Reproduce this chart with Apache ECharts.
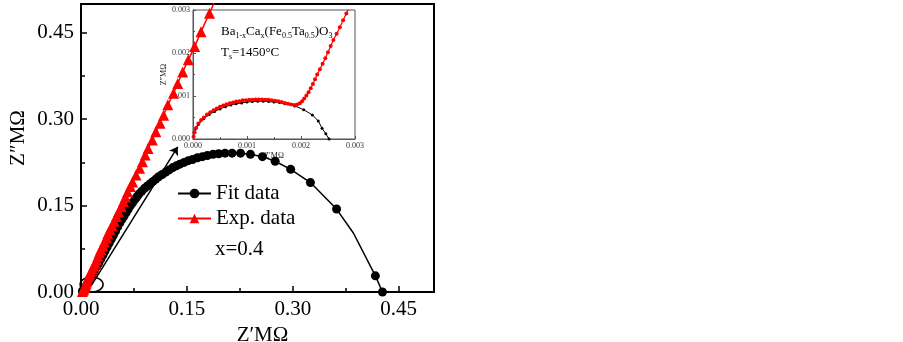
<!DOCTYPE html>
<html>
<head>
<meta charset="utf-8">
<script src="https://cdn.jsdelivr.net/npm/echarts@6/dist/echarts.min.js"></script>
<style>
html, body { margin: 0; padding: 0; background: #fff; }
#chart1 { width: 903px; height: 342px; }
</style>
</head>
<body>
<div id="chart1"></div>
<script>
// 主图 - 拟合数据 (Z', Z'')
var fitX = [0.002, 0.003, 0.005, 0.007, 0.009, 0.011, 0.013, 0.016, 0.019, 0.022, 0.025, 0.028, 0.031, 0.034, 0.037, 0.040, 0.043, 0.046, 0.049, 0.052, 0.055, 0.058, 0.061, 0.064, 0.067, 0.070, 0.073, 0.076, 0.079, 0.082, 0.086, 0.090, 0.094, 0.098, 0.102, 0.106, 0.110, 0.115, 0.120, 0.125, 0.130, 0.135, 0.140, 0.146, 0.152, 0.158, 0.165, 0.172, 0.179, 0.187, 0.195, 0.204, 0.214, 0.226, 0.240, 0.257, 0.275, 0.297, 0.325, 0.362, 0.386, 0.417, 0.427]
var fitY = [0.001, 0.003, 0.006, 0.010, 0.014, 0.019, 0.025, 0.031, 0.037, 0.044, 0.050, 0.057, 0.064, 0.071, 0.078, 0.085, 0.092, 0.099, 0.106, 0.113, 0.120, 0.126, 0.132, 0.138, 0.144, 0.150, 0.155, 0.160, 0.165, 0.170, 0.175, 0.180, 0.184, 0.188, 0.192, 0.196, 0.200, 0.204, 0.208, 0.212, 0.216, 0.219, 0.222, 0.225, 0.228, 0.230, 0.233, 0.235, 0.237, 0.239, 0.240, 0.241, 0.241, 0.241, 0.239, 0.235, 0.227, 0.213, 0.190, 0.144, 0.102, 0.028, 0.000]
// 折点处不画符号
var fitNoSymbol = [60]
// 主图 - 实验数据
var expX = [0.002, 0.003, 0.004, 0.005, 0.006, 0.007, 0.008, 0.009, 0.011, 0.012, 0.014, 0.016, 0.018, 0.020, 0.022, 0.024, 0.026, 0.028, 0.031, 0.033, 0.036, 0.038, 0.041, 0.044, 0.047, 0.050, 0.053, 0.057, 0.060, 0.063, 0.066, 0.070, 0.073, 0.078, 0.083, 0.087, 0.091, 0.095, 0.101, 0.106, 0.112, 0.117, 0.123, 0.131, 0.137, 0.144, 0.152, 0.161, 0.170, 0.182, 0.195]
var expY = [0.001, 0.003, 0.005, 0.008, 0.011, 0.014, 0.018, 0.022, 0.026, 0.030, 0.035, 0.040, 0.045, 0.050, 0.056, 0.062, 0.068, 0.074, 0.080, 0.087, 0.094, 0.101, 0.108, 0.115, 0.123, 0.131, 0.139, 0.148, 0.157, 0.165, 0.174, 0.183, 0.191, 0.203, 0.215, 0.226, 0.238, 0.249, 0.264, 0.278, 0.293, 0.307, 0.325, 0.345, 0.362, 0.382, 0.403, 0.426, 0.452, 0.484, 0.520]
// 插图 - 拟合数据
var insetFitX = [0.00002, 0.00005, 0.0001, 0.0002, 0.0003, 0.0004, 0.0005, 0.0006, 0.0007, 0.0008, 0.0009, 0.001, 0.0011, 0.0012, 0.0013, 0.0014, 0.0015, 0.0016, 0.0017, 0.00188, 0.00205, 0.00221, 0.00232, 0.00239, 0.00246, 0.00252]
var insetFitY = [0.00015, 0.00024, 0.00034, 0.00047, 0.00057, 0.00064, 0.0007, 0.00075, 0.00079, 0.00082, 0.00084, 0.00086, 0.00087, 0.00088, 0.00088, 0.00087, 0.00086, 0.00085, 0.00082, 0.00077, 0.00068, 0.00056, 0.00042, 0.00025, 0.00012, 0.0]
// 插图 - 实验数据
var insetExpX = [0.00001, 0.00003, 0.00006, 0.0001, 0.00015, 0.0002, 0.00026, 0.00032, 0.00038, 0.00044, 0.0005, 0.00056, 0.00062, 0.00068, 0.00074, 0.0008, 0.00086, 0.00092, 0.00098, 0.00104, 0.0011, 0.00116, 0.00122, 0.00128, 0.00134, 0.0014, 0.00146, 0.00152, 0.00158, 0.00164, 0.0017, 0.00176, 0.00182, 0.00188, 0.00193, 0.00198, 0.00202, 0.00206, 0.0021, 0.00214, 0.00218, 0.00222, 0.00226, 0.0023, 0.00235, 0.0024, 0.00245, 0.0025, 0.00255, 0.0026, 0.00266, 0.00272, 0.00278, 0.00284, 0.0029]
var insetExpY = [0.00005, 0.00015, 0.00026, 0.00036, 0.00044, 0.0005, 0.00057, 0.00062, 0.00067, 0.00071, 0.00075, 0.00078, 0.00081, 0.00083, 0.00085, 0.00087, 0.00088, 0.0009, 0.0009, 0.00091, 0.00091, 0.00092, 0.00092, 0.00092, 0.00091, 0.00091, 0.0009, 0.00089, 0.00088, 0.00086, 0.00084, 0.00082, 0.0008, 0.00079, 0.0008, 0.00083, 0.00088, 0.00094, 0.00101, 0.00109, 0.00118, 0.00128, 0.00139, 0.0015, 0.00162, 0.00175, 0.00188, 0.00202, 0.00216, 0.0023, 0.00245, 0.0026, 0.00276, 0.00292, 0.00308]

function zip (xs, ys) {
    return xs.map(function (x, i) { return [x, ys[i]] })
}

var serif = "'Liberation Serif', 'Times New Roman', serif"
var chart1 = echarts.init(document.getElementById('chart1'))

var mainAxis = function (isX) {
    return {
        type: 'value',
        gridIndex: 0,
        min: 0,
        max: 0.5,
        interval: 0.15,
        name: isX ? 'Z′MΩ' : 'Z″MΩ',
        nameLocation: 'middle',
        nameGap: isX ? 28 : 52,
        nameTextStyle: {
            color: '#000',
            fontFamily: serif,
            fontSize: 21,
            padding: isX ? [0, 0, 0, 10] : [0, 0, 0, 20]
        },
        axisLine: { onZero: false, lineStyle: { color: '#000', width: 2 } },
        axisTick: { inside: true, length: 6, lineStyle: { color: '#000', width: 1.5 } },
        minorTick: { show: true, splitNumber: 2, length: 4, lineStyle: { color: '#000', width: 1.5 } },
        axisLabel: {
            color: '#000',
            fontFamily: serif,
            fontSize: 21,
            margin: 7,
            showMaxLabel: false,
            formatter: function (v) { return v.toFixed(2) }
        },
        splitLine: { show: false }
    }
}

var insetAxis = function (isX) {
    return {
        type: 'value',
        gridIndex: 1,
        min: 0,
        max: 0.003,
        interval: 0.001,
        name: isX ? 'Z′MΩ' : 'Z″MΩ',
        nameLocation: 'middle',
        nameGap: isX ? 13 : 25,
        nameTextStyle: { color: '#222', fontFamily: serif, fontSize: 8 },
        axisLine: { onZero: false, lineStyle: { color: '#555', width: 1 } },
        axisTick: { inside: true, length: 3, lineStyle: { color: '#555' } },
        minorTick: { show: true, splitNumber: 2, length: 2, lineStyle: { color: '#555' } },
        axisLabel: {
            color: '#333',
            fontFamily: serif,
            fontSize: 8,
            margin: 3,
            formatter: function (v) { return v.toFixed(3) }
        },
        splitLine: { show: false }
    }
}

var option = {
    animation: false,
    backgroundColor: '#fff',
    grid: [
        { left: 81, top: 4, width: 353, height: 288, show: true, borderColor: '#000', borderWidth: 2, outerBoundsMode: 'none' },
        { left: 193, top: 10, width: 162, height: 129, show: true, borderColor: '#555', borderWidth: 1, outerBoundsMode: 'none' }
    ],
    xAxis: [mainAxis(true), insetAxis(true)],
    yAxis: [mainAxis(false), insetAxis(false)],
    legend: {
        orient: 'vertical',
        left: 172,
        top: 178,
        itemWidth: 33,
        itemHeight: 12,
        itemGap: 4,
        textStyle: { color: '#000', fontFamily: serif, fontSize: 21 },
        data: ['Fit data', 'Exp. data']
    },
    series: [
        {
            name: 'Fit data',
            type: 'line',
            xAxisIndex: 0,
            yAxisIndex: 0,
            data: zip(fitX, fitY),
            symbol: 'circle',
            symbolSize: function (v, p) { return fitNoSymbol.indexOf(p.dataIndex) >= 0 ? 0 : 9 },
            lineStyle: { color: '#000', width: 1.5 },
            itemStyle: { color: '#000' }
        },
        {
            name: 'Exp. data',
            type: 'line',
            xAxisIndex: 0,
            yAxisIndex: 0,
            data: zip(expX, expY),
            symbol: 'triangle',
            symbolSize: 11,
            lineStyle: { color: '#ff0000', width: 1.5 },
            itemStyle: { color: '#ff0000' },
            markLine: {
                silent: true,
                symbol: ['none', 'arrow'],
                symbolSize: 8,
                label: { show: false },
                lineStyle: { color: '#000', width: 1.5, type: 'solid' },
                data: [[{ coord: [0.015, 0.012] }, { coord: [0.137, 0.252] }]]
            }
        },
        {
            name: 'Inset fit',
            type: 'line',
            xAxisIndex: 1,
            yAxisIndex: 1,
            data: zip(insetFitX, insetFitY),
            symbol: 'circle',
            symbolSize: 3,
            lineStyle: { color: '#000', width: 1 },
            itemStyle: { color: '#000' }
        },
        {
            name: 'Inset exp',
            type: 'line',
            xAxisIndex: 1,
            yAxisIndex: 1,
            data: zip(insetExpX, insetExpY),
            symbol: 'circle',
            symbolSize: 4,
            lineStyle: { color: '#ff0000', width: 1.2 },
            itemStyle: { color: '#ff0000' }
        }
    ]
}
chart1.setOption(option)

// 注释: 椭圆, x=0.4, 插图公式
var c = chart1.convertToPixel({ gridIndex: 0 }, [0.015, 0.013])
chart1.setOption({
    graphic: [
        {
            type: 'ellipse',
            shape: { cx: c[0], cy: c[1], rx: 11.5, ry: 7.5 },
            style: { fill: 'none', stroke: '#000', lineWidth: 1.5 }
        },
        {
            type: 'text',
            left: 215,
            top: 239,
            style: { text: 'x=0.4', fill: '#000', font: '21px ' + serif }
        },
        {
            type: 'text',
            left: 221,
            top: 25,
            style: {
                text: 'Ba{s|1-x}Ca{s|x}(Fe{s|0.5}Ta{s|0.5})O{s|3}',
                fill: '#000',
                font: '13px ' + serif,
                rich: { s: { fontSize: 8, fontFamily: serif, padding: [9, 0, 0, 0], fill: '#000' } }
            }
        },
        {
            type: 'text',
            left: 221,
            top: 46,
            style: {
                text: 'T{s|s}=1450°C',
                fill: '#000',
                font: '13px ' + serif,
                rich: { s: { fontSize: 8, fontFamily: serif, padding: [9, 0, 0, 0], fill: '#000' } }
            }
        }
    ]
})
</script>
</body>
</html>
